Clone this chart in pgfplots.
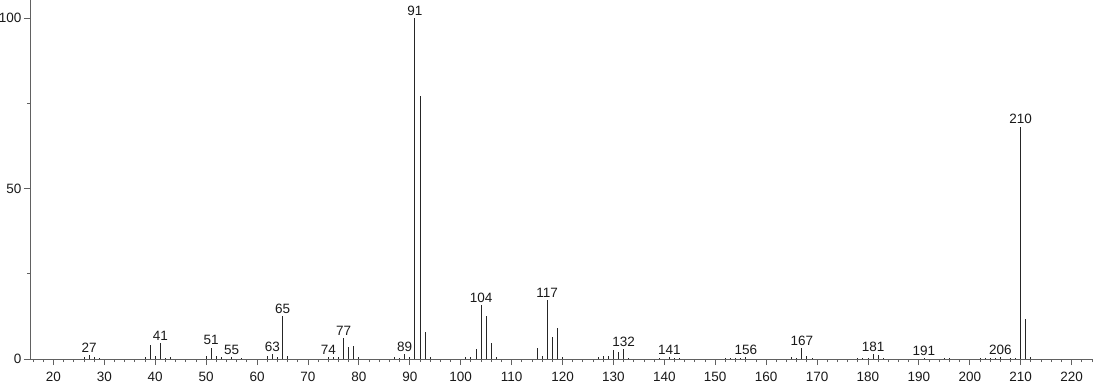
\documentclass[border=0pt]{standalone}
\usepackage{fontspec}
\setmainfont{Liberation Sans}
\usepackage{pgfplots}
\usepackage{pgfplotstable}
\pgfplotsset{compat=1.18}
\pgfplotstableread{
mz  int
26  0.5
27  1.2
28  0.6
29  0.4
38  0.5
39  4.1
40  0.8
41  4.6
42  0.4
43  0.5
50  1.0
51  3.3
52  0.8
53  0.5
55  0.5
57  0.3
62  0.8
63  1.5
64  0.5
65  12.6
66  0.8
74  0.5
75  0.5
76  0.7
77  6.1
78  3.4
79  3.9
80  0.6
87  0.5
88  0.4
89  1.5
90  0.7
91  100
92  77
93  8.0
94  0.6
101 0.5
102 0.6
103 2.9
104 15.8
105 12.7
106 4.8
107 0.6
115 3.1
116 1.0
117 17.3
118 6.5
119 9.1
120 0.6
127 0.5
128 0.8
129 0.9
130 2.6
131 2.2
132 2.9
133 0.4
139 0.3
141 0.5
142 0.4
143 0.3
152 0.3
153 0.4
154 0.3
155 0.4
156 0.5
165 0.5
166 0.4
167 3.1
168 0.9
169 0.4
178 0.3
179 0.4
180 0.4
181 1.4
182 1.2
183 0.4
191 0.3
195 0.4
196 0.4
202 0.3
203 0.4
204 0.4
205 0.3
206 0.5
208 0.3
209 0.4
210 68.1
211 11.6
212 0.6
}\peaks
\pgfplotstableread{
mz  int
27  1.2
41  4.6
51  3.3
55  0.5
63  1.5
65  12.6
74  0.5
77  6.1
89  1.5
91  100
104 15.8
117 17.3
132 2.9
141 0.5
156 0.5
167 3.1
181 1.4
191 0.3
206 0.5
210 68.1
}\labelled
\begin{document}
\fontsize{13.5}{16}\selectfont
\begin{tikzpicture}[x=1pt,y=1pt]
\begin{axis}[scale only axis, width=1063pt, height=359pt, at={(0pt,0pt)}, anchor=south west,
 xmin=15.4, xmax=224.2, ymin=0, ymax=105.3,
 axis lines*=left,
 axis line style={draw=black!62, line width=0.8pt},
 xtick={20,30,...,220}, minor xtick={16,18,...,224},
 ytick={0,50,100}, minor ytick={25,75},
 tick align=outside, major tick length=6pt, minor tick length=3pt,
 every tick/.style={black!62, line width=0.8pt},
 /pgf/number format/assume math mode=true,
 ticklabel style={font=\fontsize{13.5}{16}\selectfont, text=black!90},
 xticklabel style={yshift=-2.5pt},
 yticklabel style={xshift=2pt},
 clip=false]
\addplot[ycomb, draw=black!85, line width=0.9pt, mark=none] table[x=mz, y=int] {\peaks};
\addplot[draw=none, mark=none, point meta=x, nodes near coords,
  every node near coord/.style={font=\fontsize{13.5}{16}\selectfont, anchor=south, inner sep=1pt, yshift=1.5pt, text=black!90}]
  table[x=mz, y=int] {\labelled};
\end{axis}
\pgfresetboundingbox
\useasboundingbox (-30pt,-25pt) rectangle (1064pt,359pt);
\end{tikzpicture}
\end{document}
